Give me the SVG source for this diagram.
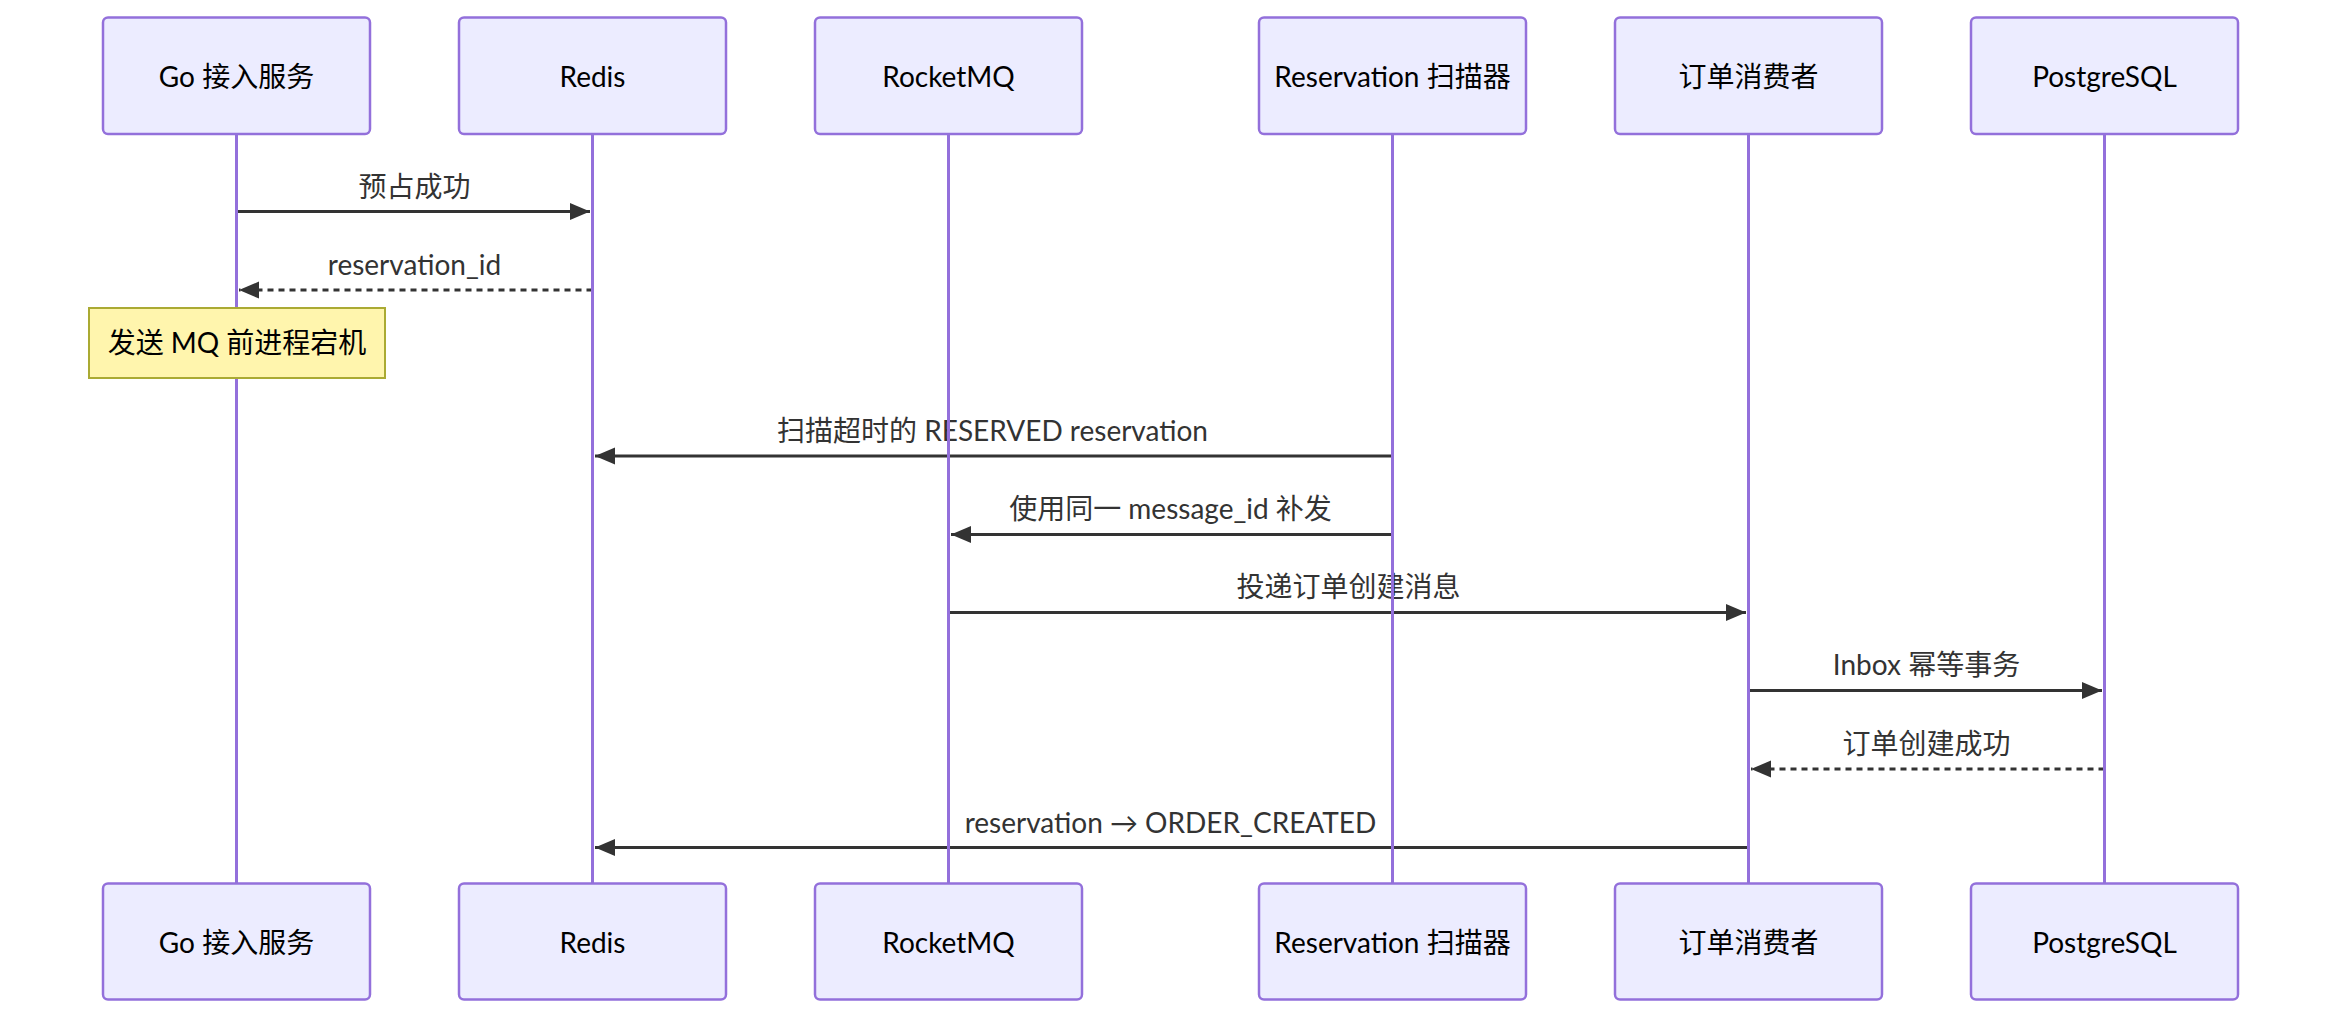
<svg xmlns="http://www.w3.org/2000/svg" width="2352" height="1032" viewBox="0 0 2352 1032">
<style>
.actor{fill:#ECECFF;stroke:#9370DB;stroke-width:2.5}
.atext{font-family:Lato,"Noto Sans CJK SC",sans-serif;font-size:28px;fill:#000;text-anchor:middle;dominant-baseline:central}
.life{stroke:#9370DB;stroke-width:3}
.msg{stroke:#333;stroke-width:3;fill:none}
.dash{stroke-dasharray:6,5}
.mtext{font-family:Lato,"Noto Sans CJK SC",sans-serif;font-size:28px;fill:#333;text-anchor:middle;dominant-baseline:central}
.note{fill:#FFF5AD;stroke:#AAAA33;stroke-width:2}
.ntext{font-family:Lato,"Noto Sans CJK SC",sans-serif;font-size:28px;fill:#000;text-anchor:middle;dominant-baseline:central}
</style>
<defs>
<marker id="arrow" markerUnits="userSpaceOnUse" markerWidth="22" markerHeight="20" refX="20" refY="8.5" orient="auto">
<path d="M0,0 L20,8.5 L0,17 z" fill="#333"/>
</marker>
</defs>
<rect width="2352" height="1032" fill="#fff"/>
<g id="connectors">
<line class="msg" x1="237" y1="211.5" x2="590" y2="211.5" marker-end="url(#arrow)"/>
<text class="mtext" x="414.5" y="186">预占成功</text>
<line class="msg dash" x1="592.5" y1="290" x2="239" y2="290" marker-end="url(#arrow)"/>
<text class="mtext" x="414.5" y="264">reservation_id</text>
<line class="msg" x1="1392.5" y1="456" x2="595" y2="456" marker-end="url(#arrow)"/>
<text class="mtext" x="992.5" y="430">扫描超时的 RESERVED reservation</text>
<line class="msg" x1="1392.5" y1="534.5" x2="951" y2="534.5" marker-end="url(#arrow)"/>
<text class="mtext" x="1170.5" y="508">使用同一 message_id 补发</text>
<line class="msg" x1="948.5" y1="612.5" x2="1746" y2="612.5" marker-end="url(#arrow)"/>
<text class="mtext" x="1348.5" y="586">投递订单创建消息</text>
<line class="msg" x1="1748.5" y1="690.5" x2="2102" y2="690.5" marker-end="url(#arrow)"/>
<text class="mtext" x="1926.5" y="664">Inbox 幂等事务</text>
<line class="msg dash" x1="2104.5" y1="769" x2="1751" y2="769" marker-end="url(#arrow)"/>
<text class="mtext" x="1926.5" y="743">订单创建成功</text>
<line class="msg" x1="1748.5" y1="847.5" x2="595" y2="847.5" marker-end="url(#arrow)"/>
<text class="mtext" x="1170.5" y="822">reservation → ORDER_CREATED</text>
</g>
<g id="lifelines">
<line class="life" x1="236.5" y1="134" x2="236.5" y2="883.5"/>
<line class="life" x1="592.5" y1="134" x2="592.5" y2="883.5"/>
<line class="life" x1="948.5" y1="134" x2="948.5" y2="883.5"/>
<line class="life" x1="1392.5" y1="134" x2="1392.5" y2="883.5"/>
<line class="life" x1="1748.5" y1="134" x2="1748.5" y2="883.5"/>
<line class="life" x1="2104.5" y1="134" x2="2104.5" y2="883.5"/>
</g>
<g id="note-crash">
<rect class="note" x="89" y="308" width="296" height="70"/>
<text class="ntext" x="237" y="342">发送 MQ 前进程宕机</text>
</g>
<g id="actor-go">
<rect class="actor" x="103" y="17.5" width="267" height="116.5" rx="5"/>
<text class="atext" x="236.5" y="76">Go 接入服务</text>
<rect class="actor" x="103" y="883.5" width="267" height="116" rx="5"/>
<text class="atext" x="236.5" y="942">Go 接入服务</text>
</g>
<g id="actor-redis">
<rect class="actor" x="459" y="17.5" width="267" height="116.5" rx="5"/>
<text class="atext" x="592.5" y="76">Redis</text>
<rect class="actor" x="459" y="883.5" width="267" height="116" rx="5"/>
<text class="atext" x="592.5" y="942">Redis</text>
</g>
<g id="actor-rocketmq">
<rect class="actor" x="815" y="17.5" width="267" height="116.5" rx="5"/>
<text class="atext" x="948.5" y="76">RocketMQ</text>
<rect class="actor" x="815" y="883.5" width="267" height="116" rx="5"/>
<text class="atext" x="948.5" y="942">RocketMQ</text>
</g>
<g id="actor-scanner">
<rect class="actor" x="1259" y="17.5" width="267" height="116.5" rx="5"/>
<text class="atext" x="1392.5" y="76">Reservation 扫描器</text>
<rect class="actor" x="1259" y="883.5" width="267" height="116" rx="5"/>
<text class="atext" x="1392.5" y="942">Reservation 扫描器</text>
</g>
<g id="actor-consumer">
<rect class="actor" x="1615" y="17.5" width="267" height="116.5" rx="5"/>
<text class="atext" x="1748.5" y="76">订单消费者</text>
<rect class="actor" x="1615" y="883.5" width="267" height="116" rx="5"/>
<text class="atext" x="1748.5" y="942">订单消费者</text>
</g>
<g id="actor-postgres">
<rect class="actor" x="1971" y="17.5" width="267" height="116.5" rx="5"/>
<text class="atext" x="2104.5" y="76">PostgreSQL</text>
<rect class="actor" x="1971" y="883.5" width="267" height="116" rx="5"/>
<text class="atext" x="2104.5" y="942">PostgreSQL</text>
</g>
</svg>
